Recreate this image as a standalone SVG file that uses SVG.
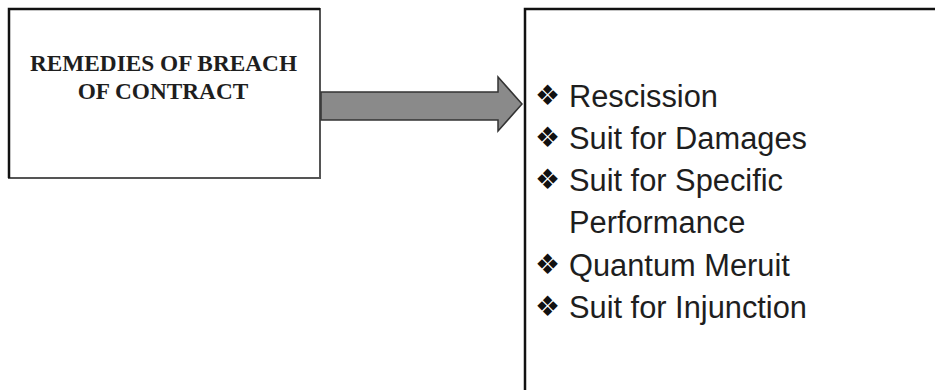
<svg xmlns="http://www.w3.org/2000/svg" width="935" height="390" viewBox="0 0 935 390">
  <style>
    .box { fill: #ffffff; stroke: #555555; stroke-width: 2; }
    .edge { stroke: #111111; stroke-width: 2.5; fill: none; }
    .title { font-family: "Liberation Serif", "Times New Roman", serif; font-weight: bold; font-size: 23.3px; fill: #1e1e1e; text-anchor: middle; }
    .item { font-family: "Liberation Sans", Arial, sans-serif; font-size: 30.8px; fill: #1e1e1e; }
    .bullet { font-family: "DejaVu Sans", sans-serif; font-size: 28px; fill: #111111; }
    .arrow { fill: #8a8a8a; stroke: #333333; stroke-width: 1.5; stroke-linejoin: miter; }
  </style>

  <rect width="935" height="390" fill="#ffffff"/>

  <!-- source node -->
  <g id="remedies">
    <rect class="box" x="9" y="9" width="311" height="169"/>
    <path class="edge" d="M9,178 V9 H320"/>
    <text class="title" x="163.5" y="71">REMEDIES OF BREACH</text>
    <text class="title" x="163" y="99">OF CONTRACT</text>
  </g>

  <!-- list node -->
  <g id="remedy-list">
    <rect class="box" x="525" y="9" width="420" height="395"/>
    <path class="edge" d="M525,395 V9 H940"/>
    <text class="bullet" x="535" y="105">❖</text>
    <text class="item" x="569" y="107">Rescission</text>
    <text class="bullet" x="535" y="147">❖</text>
    <text class="item" x="569" y="149">Suit for Damages</text>
    <text class="bullet" x="535" y="189">❖</text>
    <text class="item" x="569" y="191">Suit for Specific</text>
    <text class="item" x="569" y="233">Performance</text>
    <text class="bullet" x="535" y="274">❖</text>
    <text class="item" x="569" y="276">Quantum Meruit</text>
    <text class="bullet" x="535" y="316">❖</text>
    <text class="item" x="569" y="318">Suit for Injunction</text>
  </g>

  <!-- connector -->
  <g id="connectors">
    <path class="arrow" d="M321,92 H498 V77 L522,104 L498,131 V120 H321 Z"/>
  </g>
</svg>
